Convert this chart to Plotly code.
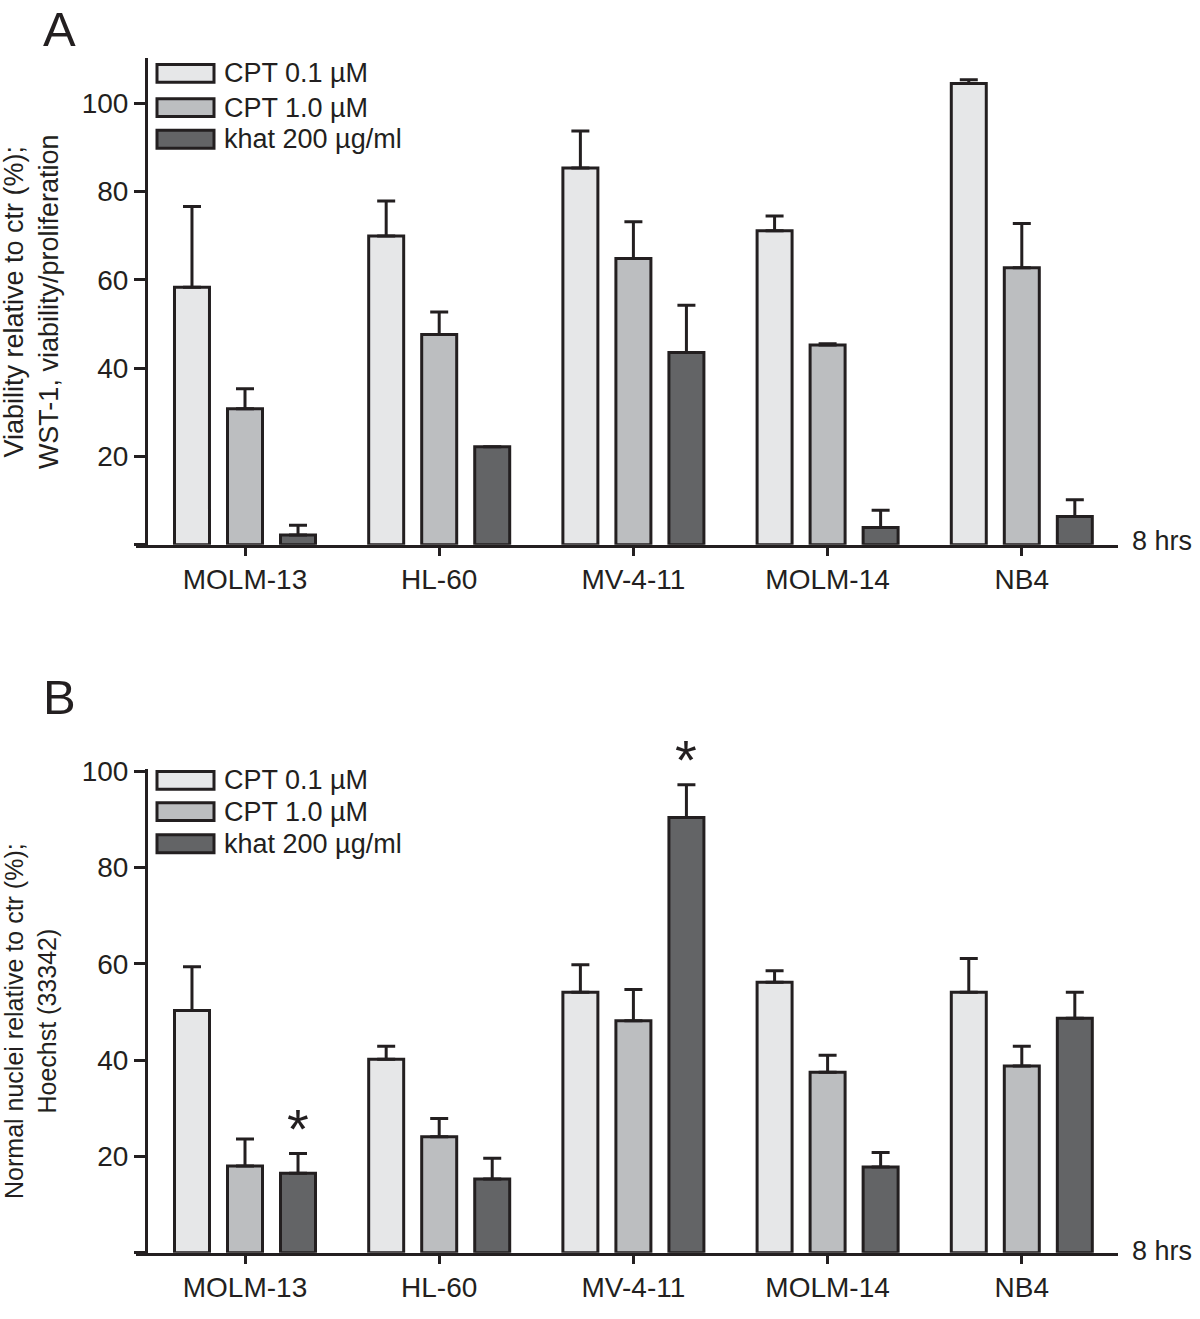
import plotly.graph_objects as go

# ---------------- data ----------------
cell_lines = ["MOLM-13", "HL-60", "MV-4-11", "MOLM-14", "NB4"]
series_names = ["CPT 0.1 µM", "CPT 1.0 µM", "khat 200 µg/ml"]

# Panel A: WST-1 viability (% of ctr)
a_cpt01 = [58.3, 69.9, 85.3, 71.1, 104.4]
a_cpt01_err = [18.3, 7.9, 8.4, 3.3, 0.9]
a_cpt10 = [30.8, 47.6, 64.8, 45.2, 62.7]
a_cpt10_err = [4.5, 5.1, 8.3, 0.3, 10.0]
a_khat = [2.2, 22.2, 43.5, 3.9, 6.4]
a_khat_err = [2.2, 0.0, 10.7, 3.9, 3.8]

# Panel B: normal nuclei, Hoechst 33342 (% of ctr)
b_cpt01 = [50.3, 40.2, 54.1, 56.2, 54.1]
b_cpt01_err = [9.1, 2.7, 5.7, 2.4, 7.0]
b_cpt10 = [18.0, 24.1, 48.2, 37.5, 38.8]
b_cpt10_err = [5.6, 3.8, 6.5, 3.5, 4.1]
b_khat = [16.5, 15.3, 90.4, 17.8, 48.7]
b_khat_err = [4.1, 4.3, 6.8, 3.0, 5.4]
b_khat_sig = ["*", "", "*", "", ""]

y_tickvals = [0, 20, 40, 60, 80, 100]
y_ticktext = ["", "20", "40", "60", "80", "100"]

title_a = "Viability relative to ctr (%);<br>WST-1, viability/proliferation"
title_b = "Normal nuclei relative to ctr (%);<br>Hoechst (33342)"
time_label = "8 hrs"

# ---------------- style ----------------
W, H = 1200, 1319
FONT = "Liberation Sans, Arial, Helvetica, sans-serif"
INK = "#231f20"
fills = ["#e6e7e8", "#bcbec0", "#636466"]
LW = 3


def px(xp):
    return xp / W


def py(yp):
    return 1 - yp / H


fig = go.Figure()

panels = [
    ("x", "y", [a_cpt01, a_cpt10, a_khat], [a_cpt01_err, a_cpt10_err, a_khat_err]),
    ("x2", "y2", [b_cpt01, b_cpt10, b_khat], [b_cpt01_err, b_cpt10_err, b_khat_err]),
]
for xa, ya, vals, errs in panels:
    for name, v, e, c in zip(series_names, vals, errs, fills):
        fig.add_trace(go.Bar(
            x=cell_lines, y=v, name=name, xaxis=xa, yaxis=ya,
            showlegend=False,
            marker=dict(color=c, line=dict(color=INK, width=LW)),
            error_y=dict(type="data", array=e, arrayminus=[0] * len(e),
                         symmetric=False, color=INK, thickness=LW, width=9),
        ))

x_left, x_right = 136, 1118
yaxis_x = 146
cat0_px, cat_step = 245, 194.2
xrange = [-(cat0_px - x_left) / cat_step, (x_right - cat0_px) / cat_step]

axis_common = dict(showline=True, linecolor=INK, linewidth=LW, showgrid=False,
                   zeroline=False, ticks="outside", tickcolor=INK, tickwidth=LW,
                   tickfont=dict(family=FONT, size=28, color=INK))

panelA = dict(top=45, bottom=537, ymax=110.3)
panelB = dict(top=764, bottom=1252, ymax=100.4)

layout = dict(
    width=W, height=H, margin=dict(l=0, r=0, t=0, b=0),
    paper_bgcolor="white", plot_bgcolor="white",
    barmode="group", bargap=0.181, bargroupgap=0.34,
    font=dict(family=FONT, color=INK),
)
for i, p in enumerate([panelA, panelB]):
    sx = "" if i == 0 else "2"
    layout["xaxis" + sx] = dict(axis_common, domain=[px(x_left), px(x_right)],
                                anchor="y" + sx, range=xrange, ticklen=8,
                                type="category")
    layout["yaxis" + sx] = dict(axis_common, domain=[py(p["bottom"]), py(p["top"])],
                                anchor="free", position=px(yaxis_x),
                                range=[0, p["ymax"]], tickvals=y_tickvals,
                                ticktext=y_ticktext, ticklen=11)
fig.update_layout(**layout)

annotations = []
shapes = []
# panel letters
for letter, yc in [("A", 16), ("B", 691)]:
    annotations.append(dict(text=letter, x=px(41), y=py(yc), xref="paper", yref="paper",
                            xanchor="left", yanchor="middle", showarrow=False,
                            font=dict(family=FONT, size=49, color=INK)))
# y titles
for t, yc, fs in [(title_a, 292, 27), (title_b, 1018, 25)]:
    annotations.append(dict(text=t, x=px(31), y=py(yc), xref="paper", yref="paper",
                            xanchor="center", yanchor="middle", textangle=-90,
                            showarrow=False, align="center",
                            font=dict(family=FONT, size=fs, color=INK)))
# time labels
for yc in [533, 1250]:
    annotations.append(dict(text=time_label, x=px(1130), y=py(yc), xref="paper", yref="paper",
                            xanchor="left", yanchor="middle", showarrow=False,
                            font=dict(family=FONT, size=27, color=INK)))
# legends (custom wide swatches)
for row_centers in [[61, 95.5, 127.5], [775, 806.5, 839]]:
    for name, c, yc in zip(series_names, fills, row_centers):
        shapes.append(dict(type="rect", xref="paper", yref="paper",
                           x0=px(157), x1=px(214), y0=py(yc + 9), y1=py(yc - 9),
                           fillcolor=c, line=dict(color=INK, width=LW)))
        annotations.append(dict(text=name, x=px(222), y=py(yc), xref="paper", yref="paper",
                                xanchor="left", yanchor="middle", showarrow=False,
                                font=dict(family=FONT, size=27, color=INK)))
# significance asterisks above khat bars in panel B
for cat, v, e, s in zip(cell_lines, b_khat, b_khat_err, b_khat_sig):
    if s:
        annotations.append(dict(text=s, x=cat, y=v + e, xref="x2", yref="y2",
                                xshift=53, yshift=-8, xanchor="center", yanchor="bottom",
                                showarrow=False, font=dict(family=FONT, size=56, color=INK)))

fig.update_layout(annotations=annotations, shapes=shapes)
fig.write_html("out.html", config={"displayModeBar": False},
               post_script="document.body.style.margin='0px';document.body.style.overflow='hidden';")
